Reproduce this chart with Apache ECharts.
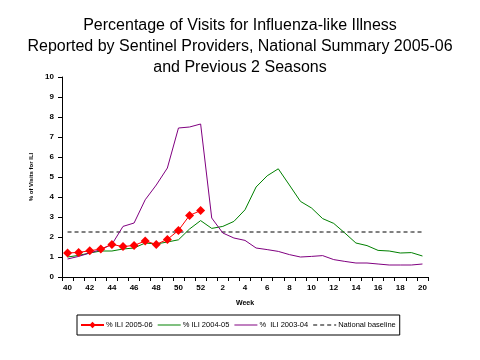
<!DOCTYPE html>
<html><head><meta charset="utf-8">
<script src="https://cdn.jsdelivr.net/npm/echarts@6/dist/echarts.min.js"></script>
<style>html,body{margin:0;padding:0;background:#fff}#c{width:480px;height:360px}</style>
</head><body><div id="c"></div>
<script>
var weeks = ['40','41','42','43','44','45','46','47','48','49','50','51','52','1','2','3','4','5','6','7','8','9','10','11','12','13','14','15','16','17','18','19','20'];
var ili0506 = [1.20,1.23,1.31,1.40,1.63,1.52,1.58,1.80,1.63,1.88,2.33,3.08,3.32];
var ili0405 = [1.00,1.08,1.20,1.30,1.30,1.40,1.45,1.70,1.65,1.75,1.86,2.40,2.82,2.43,2.53,2.78,3.36,4.50,5.06,5.41,4.60,3.78,3.45,2.92,2.68,2.20,1.70,1.57,1.33,1.30,1.20,1.22,1.05];
var ili0304 = [0.90,1.03,1.20,1.37,1.63,2.53,2.70,3.86,4.60,5.45,7.45,7.50,7.65,2.95,2.20,1.95,1.83,1.45,1.37,1.28,1.12,1.00,1.03,1.07,0.87,0.78,0.70,0.70,0.65,0.60,0.60,0.60,0.65];
var baseline = [2.25,2.25,2.25,2.25,2.25,2.25,2.25,2.25,2.25,2.25,2.25,2.25,2.25,2.25,2.25,2.25,2.25,2.25,2.25,2.25,2.25,2.25,2.25,2.25,2.25,2.25,2.25,2.25,2.25,2.25,2.25,2.25,2.25];
var seriesNames = ['% ILI 2005-06','% ILI 2004-05','%  ILI 2003-04','National baseline'];
var titleText = 'Percentage of Visits for Influenza-like Illness\nReported by Sentinel Providers, National Summary 2005-06\nand Previous 2 Seasons';

var chart = echarts.init(document.getElementById('c'), null, {renderer:'canvas'});
var F = 'Liberation Sans, Arial, sans-serif';
var solidIcon = 'path://M0,0L23,0L23,1L0,1Z';
var dashIcon = 'path://M0,0h4v1h-4zM7,0h4v1h-4zM14,0h4v1h-4zM21,0h2v1h-2z';
chart.setOption({
  animation:false,
  backgroundColor:'#fff',
  title:{text:titleText,left:'center',top:10,textStyle:{fontFamily:F,fontSize:16,fontWeight:'normal',color:'#000',lineHeight:21}},
  grid:{left:62,right:52,top:77,bottom:83,containLabel:false},
  legend:{
    data:[{name:seriesNames[0]},{name:seriesNames[1],icon:solidIcon},{name:seriesNames[2],icon:solidIcon},{name:seriesNames[3],icon:dashIcon}],
    left:77, top:315, orient:'horizontal', itemWidth:23, itemHeight:8, itemGap:5,
    borderColor:'#000', borderWidth:1, padding:[6,4,6,3], borderRadius:0,
    textStyle:{fontFamily:F,fontSize:7.5,color:'#000',padding:[0,0,0,-3]}
  },
  xAxis:{type:'category',data:weeks,boundaryGap:true,name:'Week',nameLocation:'middle',nameGap:23,
    nameTextStyle:{fontFamily:F,fontSize:7,fontWeight:'bold',color:'#000'},
    axisLine:{lineStyle:{color:'#000',width:1}},
    axisTick:{show:true,interval:0,length:4,lineStyle:{color:'#000'}},
    axisLabel:{interval:1,fontFamily:F,fontSize:8,fontWeight:'bold',color:'#000',margin:7},
    splitLine:{show:false}},
  yAxis:{type:'value',min:0,max:10,interval:1,name:'% of Visits for ILI',nameLocation:'middle',nameGap:19,nameRotate:90,
    nameTextStyle:{fontFamily:F,fontSize:6,fontWeight:'bold',color:'#000'},
    axisLine:{show:true,lineStyle:{color:'#000',width:1}},
    axisTick:{show:true,length:4,lineStyle:{color:'#000'}},
    axisLabel:{fontFamily:F,fontSize:8,fontWeight:'bold',color:'#000',margin:8},
    splitLine:{show:false}},
  series:[
    {name:seriesNames[0],type:'line',data:ili0506,symbol:'diamond',symbolSize:9,showAllSymbol:true,
      itemStyle:{color:'#ff0000'},lineStyle:{color:'#ff0000',width:1},z:5},
    {name:seriesNames[1],type:'line',data:ili0405,symbol:'none',itemStyle:{color:'#008000'},lineStyle:{color:'#008000',width:1},z:3},
    {name:seriesNames[2],type:'line',data:ili0304,symbol:'none',itemStyle:{color:'#800080'},lineStyle:{color:'#800080',width:1},z:4},
    {name:seriesNames[3],type:'line',data:baseline,symbol:'none',itemStyle:{color:'#000'},lineStyle:{color:'#000',width:1,type:[4,3]},z:2}
  ]
});
</script></body></html>
